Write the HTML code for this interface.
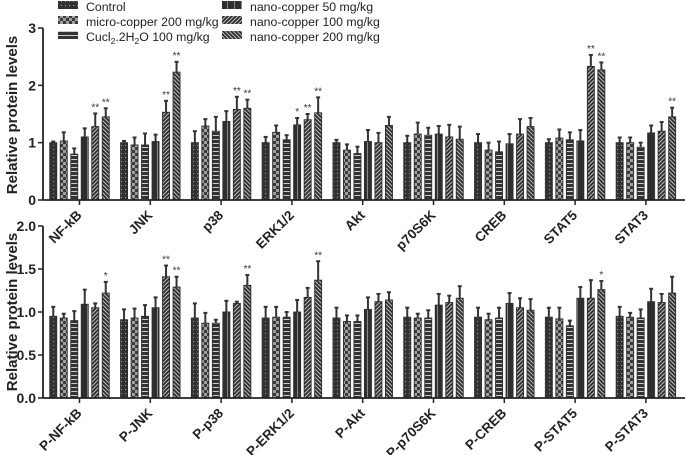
<!DOCTYPE html>
<html><head><meta charset="utf-8"><style>
html,body{margin:0;padding:0;background:#fff;}
svg{display:block;font-family:"Liberation Sans",Arial,sans-serif;}
</style></head><body>
<svg id="chart" width="685" height="455" viewBox="0 0 685 455" xmlns="http://www.w3.org/2000/svg">
<defs>
<pattern id="p0" width="4" height="4" patternUnits="userSpaceOnUse"><rect width="4" height="4" fill="#333"/><rect x="1" y="1" width="1" height="1" fill="#999"/></pattern>
<pattern id="p1" width="6" height="6" patternUnits="userSpaceOnUse"><rect width="6" height="6" fill="#a0a0a0"/><rect width="3" height="3" fill="#3a3a3a"/><rect x="3" y="3" width="3" height="3" fill="#3a3a3a"/></pattern>
<pattern id="p2" width="4" height="4" patternUnits="userSpaceOnUse"><rect width="4" height="4" fill="#333"/><rect y="3" width="4" height="1" fill="#ccc"/></pattern>
<pattern id="p3" width="7" height="4" patternUnits="userSpaceOnUse"><rect width="7" height="4" fill="#2e2e2e"/><rect x="3" width="1" height="4" fill="#888"/></pattern>
<pattern id="p4" width="4" height="4" patternUnits="userSpaceOnUse"><rect width="4" height="4" fill="#bbb"/><path d="M-1,1 l2,-2 M0,4 l4,-4 M3,5 l2,-2" stroke="#2e2e2e" stroke-width="1.8"/></pattern>
<pattern id="p5" width="4" height="4" patternUnits="userSpaceOnUse"><rect width="4" height="4" fill="#bbb"/><path d="M-1,3 l2,2 M0,0 l4,4 M3,-1 l2,2" stroke="#2e2e2e" stroke-width="1.8"/></pattern>
</defs>
<g id="legend"></g>
<g id="top"></g>
<g id="bot"></g>
</svg>
<script>
const seriesNames = ["Control","micro-copper 200 mg/kg","Cucl2.2H2O 100 mg/kg","nano-copper 50   mg/kg","nano-copper 100 mg/kg","nano-copper 200 mg/kg"];
const topCats = ["NF-kB","JNK","p38","ERK1/2","Akt","p70S6K","CREB","STAT5","STAT3"];
const topVals = [
 [1.0,1.03,0.80,1.10,1.28,1.45],
 [1.0,0.96,0.96,1.02,1.53,2.23],
 [1.0,1.29,1.20,1.37,1.58,1.60],
 [1.0,1.18,1.05,1.31,1.40,1.52],
 [1.0,0.87,0.81,1.02,1.00,1.30],
 [1.0,1.15,1.13,1.15,1.10,1.06],
 [1.0,0.87,0.84,0.98,1.15,1.28],
 [1.0,1.08,1.05,1.03,2.33,2.27],
 [1.0,1.00,0.92,1.17,1.20,1.45]];
const topErr = [
 [0.02,0.15,0.10,0.15,0.23,0.15],
 [0.03,0.13,0.20,0.12,0.20,0.18],
 [0.20,0.12,0.25,0.18,0.22,0.15],
 [0.10,0.12,0.08,0.12,0.10,0.27],
 [0.05,0.10,0.12,0.20,0.17,0.15],
 [0.12,0.20,0.13,0.14,0.21,0.22],
 [0.15,0.13,0.18,0.17,0.26,0.15],
 [0.06,0.15,0.13,0.19,0.20,0.13],
 [0.09,0.09,0.08,0.13,0.16,0.16]];
const topStars = [
 ["","","","","**","**"],["","","","","**","**"],["","","","","**","**"],["","","","*","**","**"],
 ["","","","","",""],["","","","","",""],["","","","","",""],["","","","","**","**"],["","","","","","**"]];
const topTicks = ["0","1","2","3"];
const botCats = ["P-NF-kB","P-JNK","P-p38","P-ERK1/2","P-Akt","P-p70S6K","P-CREB","P-STAT5","P-STAT3"];
const botVals = [
 [0.95,0.93,0.90,1.09,1.05,1.22],
 [0.91,0.93,0.95,1.05,1.41,1.29],
 [0.93,0.87,0.87,1.00,1.10,1.31],
 [0.93,0.94,0.94,1.00,1.17,1.37],
 [0.93,0.89,0.89,1.03,1.12,1.14],
 [0.94,0.93,0.93,1.08,1.11,1.16],
 [0.94,0.91,0.93,1.10,1.05,1.02],
 [0.94,0.92,0.84,1.16,1.16,1.26],
 [0.95,0.94,0.93,1.12,1.11,1.22]];
const botErr = [
 [0.11,0.05,0.11,0.17,0.05,0.13],
 [0.12,0.11,0.13,0.12,0.13,0.12],
 [0.17,0.12,0.04,0.13,0.02,0.12],
 [0.13,0.12,0.06,0.14,0.11,0.22],
 [0.12,0.07,0.07,0.14,0.09,0.09],
 [0.11,0.05,0.09,0.13,0.08,0.14],
 [0.11,0.07,0.12,0.12,0.11,0.13],
 [0.11,0.13,0.06,0.13,0.21,0.10],
 [0.11,0.05,0.10,0.15,0.10,0.19]];
const botStars = [
 ["","","","","","*"],["","","","","**","**"],["","","","","","**"],["","","","","","**"],
 ["","","","","",""],["","","","","",""],["","","","","",""],["","","","","","*"],["","","","","",""]];
const botTicks = ["0.0","0.5","1.0","1.5","2.0"];

const NS="http://www.w3.org/2000/svg";
function mk(tag,attrs,parent){const e=document.createElementNS(NS,tag);for(const k in attrs)e.setAttribute(k,attrs[k]);parent.appendChild(e);return e;}

const lg=document.getElementById('legend');
seriesNames.forEach((n,i)=>{
  const col=Math.floor(i/3), row=i%3;
  const x=col?222:58, y=1+row*15;
  const sw=mk('rect',{x:x,y:y,width:20,height:8,fill:'url(#p'+i+')'},lg);
  
  
  const t=mk('text',{x:col?250:86,y:y+10,'font-size':12.3,fill:'#222'},lg);
  
  
  if(i===2){t.innerHTML='Cucl<tspan font-size="8.5" dy="3">2</tspan><tspan dy="-3">.2H</tspan><tspan font-size="8.5" dy="3">2</tspan><tspan dy="-3">O 100 mg/kg</tspan>';}
  else t.textContent=n;
});

function panel(g,cats,vals,errs,stars,ticks,y0,yTop,maxV,labelY,titleY){
  const x0=43, xEnd=685, step=70.8, first=79.5, bw=7, bs=10.5;
  const yS=v=>y0-(y0-yTop)*v/maxV;
  const gx=i=>first+i*step;
  ticks.forEach((t,i)=>{
    const v=maxV*i/(ticks.length-1), y=yS(v);
    mk('line',{x1:x0-5,x2:x0,y1:y,y2:y,stroke:'#222','stroke-width':1.5},g);
    const tx=mk('text',{x:x0-7,y:y+5,'font-size':14,'font-weight':'bold','text-anchor':'end',fill:'#222'},g);
    
    
    tx.textContent=t;
  });
  cats.forEach((c,ci)=>{
    vals[ci].forEach((v,si)=>{
      const cx=gx(ci)+(si-2.5)*bs, top=yS(v), et=yS(v+errs[ci][si]);
      mk('line',{x1:cx,x2:cx,y1:et,y2:top,stroke:'#333','stroke-width':2},g);
      mk('line',{x1:cx-2,x2:cx+2,y1:et,y2:et,stroke:'#333','stroke-width':2},g);
      const r=mk('rect',{x:cx-bw/2,y:top,width:bw,height:y0-top,fill:'url(#p'+si+')',stroke:'#2e2e2e','stroke-width':0.9},g);
      
      
      if(stars[ci][si]){
        const s=mk('text',{x:cx,y:et-3,'font-size':10,'text-anchor':'middle',fill:'#333'},g);
        
        
        s.textContent=stars[ci][si];
      }
    });
    const tx=gx(ci);
    mk('line',{x1:tx,x2:tx,y1:y0,y2:y0+5,stroke:'#222','stroke-width':1.5},g);
    const l=mk('text',{x:tx+3,y:y0+labelY,'font-size':13.5,'font-weight':'bold','text-anchor':'end',fill:'#222',transform:'rotate(-45 '+(tx+3)+' '+(y0+labelY)+')'},g);
    
    
    l.textContent=c;
  });
  mk('line',{x1:x0,x2:x0,y1:yTop,y2:y0,stroke:'#222','stroke-width':1.8},g);
  mk('line',{x1:x0,x2:xEnd,y1:y0,y2:y0,stroke:'#222','stroke-width':1.8},g);
  const t=mk('text',{x:17,y:titleY,'font-size':15,'font-weight':'bold','text-anchor':'middle',fill:'#222',transform:'rotate(-90 17 '+titleY+')'},g);
  
  
  t.textContent='Relative protein levels';
}
panel(document.getElementById('top'),topCats,topVals,topErr,topStars,topTicks,200,28,3,16,115);
panel(document.getElementById('bot'),botCats,botVals,botErr,botStars,botTicks,398,226,2,16,312);
</script>
</body></html>
